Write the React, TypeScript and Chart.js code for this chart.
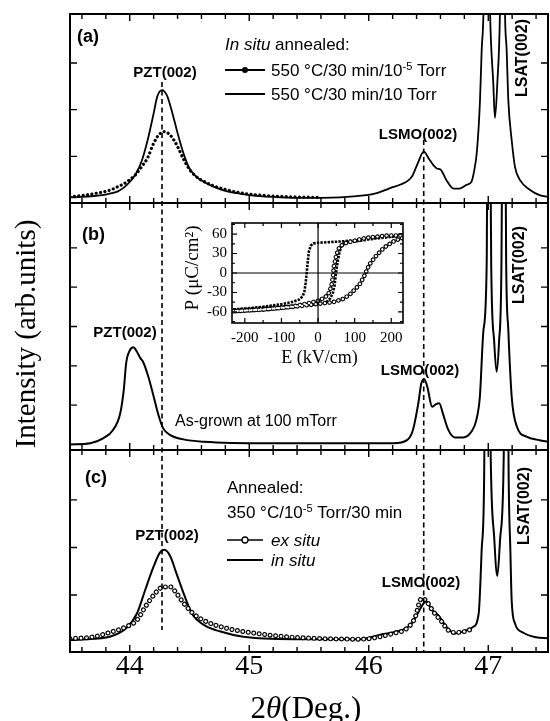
import React, { useEffect, useRef } from "react";
import { Chart, registerables } from "chart.js";
Chart.register(...registerables);

const W = 550;
const H = 721;
const SANS = '"Liberation Sans", Arial, Helvetica, sans-serif';
const SERIF = '"Liberation Serif", "Times New Roman", Times, serif';

// ---------- Panel (a): in situ annealed ----------
const aSolidX = [43.50,43.60,43.70,43.80,43.85,43.90,43.95,44.00,44.05,44.10,44.15,44.20,44.23,44.27,44.31,44.35,44.40,44.45,44.50,44.55,44.60,44.70,44.80,44.90,45.00,45.20,45.40,45.60,45.76,45.98,46.05,46.12,46.20,46.26,46.36,46.41,46.46,46.51,46.57,46.60,46.65,46.71,46.76,46.82,46.86,46.88,46.906,46.931,46.945,46.96,46.985,47.015,47.042,47.056,47.076,47.098,47.12,47.14,47.154,47.168,47.196,47.224,47.266,47.35,47.43,47.50];
const aSolidY = [0.12,0.13,0.15,0.18,0.21,0.25,0.33,0.45,0.62,0.90,1.35,1.92,2.28,2.42,2.31,1.99,1.50,1.06,0.74,0.58,0.48,0.35,0.26,0.21,0.17,0.13,0.11,0.11,0.12,0.17,0.20,0.26,0.34,0.39,0.56,0.85,1.10,0.92,0.74,0.72,0.49,0.31,0.31,0.39,0.46,0.66,1.13,2.20,3.28,4.10,9.0,4.10,2.57,1.82,2.57,4.10,9.0,4.10,3.28,2.20,1.35,0.77,0.49,0.28,0.17,0.13];
const aDotX = [43.50,43.60,43.70,43.80,43.85,43.90,43.95,44.00,44.05,44.10,44.15,44.20,44.25,44.29,44.35,44.40,44.45,44.50,44.55,44.60,44.70,44.80,44.90,45.00,45.20,45.40,45.60];
const aDotY = [0.13,0.16,0.20,0.25,0.29,0.35,0.41,0.50,0.61,0.78,0.97,1.28,1.48,1.53,1.42,1.21,0.94,0.72,0.58,0.49,0.37,0.29,0.23,0.19,0.15,0.13,0.12];

// ---------- Panel (b): as-grown ----------
const bX = [43.50,43.67,43.78,43.86,43.92,43.95,43.97,44.00,44.03,44.06,44.09,44.11,44.155,44.20,44.24,44.28,44.34,44.45,44.62,45.17,45.80,46.206,46.32,46.37,46.415,46.44,46.465,46.49,46.53,46.555,46.59,46.62,46.666,46.72,46.79,46.86,46.90,46.93,46.96,46.987,47.00,47.025,47.05,47.07,47.09,47.11,47.13,47.15,47.168,47.196,47.24,47.32,47.43,47.50];
const bY = [0.00,0.03,0.16,0.37,0.79,1.39,2.07,2.39,2.47,2.36,2.19,2.11,1.73,1.22,0.75,0.41,0.24,0.13,0.07,0.03,0.03,0.03,0.11,0.37,1.05,1.56,1.66,1.47,0.96,1.01,1.05,0.79,0.37,0.18,0.18,0.33,0.62,1.22,2.91,4.61,14,4.5,2.6,1.85,2.6,4.5,14,4.6,2.91,1.22,0.45,0.20,0.11,0.07];

// ---------- Panel (c): 350 C annealed ----------
const cInX = [43.50,43.70,43.83,43.97,44.06,44.13,44.20,44.25,44.29,44.34,44.39,44.45,44.52,44.62,44.76,44.95,45.37,45.93,46.09,46.23,46.35,46.41,46.46,46.48,46.53,46.58,46.65,46.72,46.79,46.87,46.92,46.945,46.965,46.99,47.02,47.05,47.076,47.10,47.13,47.15,47.17,47.185,47.196,47.224,47.29,47.40,47.50];
const cInY = [0.05,0.08,0.12,0.30,0.61,1.11,1.60,1.88,1.95,1.81,1.46,1.04,0.61,0.37,0.23,0.12,0.07,0.07,0.16,0.23,0.37,0.61,0.83,0.86,0.68,0.58,0.33,0.19,0.23,0.32,0.61,1.95,3.35,12,4.0,2.2,1.40,2.2,4.0,12,3.70,1.95,0.89,0.40,0.21,0.11,0.09];
const cExX = [43.50,43.70,43.83,43.97,44.06,44.13,44.18,44.225,44.28,44.34,44.39,44.45,44.53,44.64,44.81,45.09,45.37,45.93,46.205,46.32,46.39,46.43,46.45,46.485,46.54,46.61,46.665,46.72,46.80,46.88];
const cExY = [0.08,0.12,0.21,0.33,0.47,0.75,0.93,1.07,1.17,1.17,1.04,0.83,0.61,0.44,0.30,0.18,0.11,0.07,0.19,0.30,0.54,0.89,0.93,0.86,0.65,0.44,0.26,0.21,0.23,0.30];

// ---------- Inset: P-E hysteresis loops ----------
const filledE = [-232,-150,-100,-50,0,20,32,40,45,48,52,57,63,72,100,150,200,230,180,120,60,0,-13,-20,-25,-28,-31,-34,-37,-42,-52,-70,-100,-150,-200,-232];
const filledP = [-56,-53,-51.5,-50,-48,-46,-40,-32,-20,-5,12,28,40,46,48.5,52.5,55.5,57.5,55,51,48.5,46.5,45.5,42,33,18,0,-16,-28,-36,-41,-44.5,-48,-52,-55,-56];
const openE = [-232,-150,-100,-50,0,40,68,85,95,113,126,140,158,180,207,230,230,185,130,77,59,50,43,41,36,27,5,-30,-70,-150,-232];
const openP = [-59,-56,-54,-51,-47.5,-45,-40,-34,-28.5,-18,-5,13,26,39,49,54,58,57.5,54,46.5,41,28,10,-5,-21,-34,-42,-47,-51.5,-56.5,-59];

// ---------- ticks / reference positions ----------
const xTickLabels = [44, 45, 46, 47];
const aYTicks = [1, 2, 3];
const bYTicks = [1, 2, 3, 4, 5];
const cYTicks = [1, 2, 3];
const insetXTicks = [-200, -100, 0, 100, 200];
const insetYTicks = [-60, -30, 0, 30, 60];
const pztPos = 44.27;
const lsmoPos = 46.46;

const AREA_L = 70;
const AREA_R = 548;
const X_AXIS_H = 40;

type Run = { t: string; f: string; dy?: number };

function drawRuns(ctx: any, runs: Run[], x: number, y: number, align: string = "left") {
  const widths = runs.map((r) => {
    ctx.font = r.f;
    return ctx.measureText(r.t).width;
  });
  const total = widths.reduce((s, w) => s + w, 0);
  let cx = align === "center" ? x - total / 2 : x;
  ctx.textAlign = "left";
  ctx.textBaseline = "alphabetic";
  runs.forEach((r, i) => {
    ctx.font = r.f;
    ctx.fillText(r.t, cx, y + (r.dy || 0));
    cx += widths[i];
  });
}

function rotText(ctx: any, s: string, x: number, y: number, font: string) {
  ctx.save();
  ctx.translate(x, y);
  ctx.rotate(-Math.PI / 2);
  ctx.font = font;
  ctx.textAlign = "center";
  ctx.textBaseline = "alphabetic";
  ctx.fillText(s, 0, 0);
  ctx.restore();
}

function seg(ctx: any, x1: number, y1: number, x2: number, y2: number, w: number) {
  ctx.beginPath();
  ctx.lineWidth = w;
  ctx.moveTo(x1, y1);
  ctx.lineTo(x2, y2);
  ctx.stroke();
}

function pts(xs: number[], ys: number[]) {
  return xs.map((x, i) => ({ x, y: ys[i] }));
}

function xMinor() {
  const out: number[] = [];
  for (let k = 436; k <= 474; k += 2) out.push(k / 10);
  return out;
}

const F17 = `17px ${SANS}`;
const F17I = `italic 17px ${SANS}`;
const F11 = `11px ${SANS}`;
const B15 = `bold 15px ${SANS}`;
const B16 = `bold 16px ${SANS}`;
const B18 = `bold 18px ${SANS}`;

function lineDs(xs: number[], ys: number[], extra: any) {
  return Object.assign(
    {
      data: pts(xs, ys),
      borderColor: "#000",
      borderWidth: 2,
      pointRadius: 0,
      pointHoverRadius: 0,
      tension: 0.3,
      cubicInterpolationMode: "monotone",
      clip: 0,
      fill: false,
    },
    extra
  );
}

function makePanel(canvas: HTMLCanvasElement, spec: any) {
  const decor = {
    id: "panelDecor",
    afterDatasetsDraw(chart: any) {
      const { ctx, chartArea: a } = chart;
      const xs = chart.scales.x;
      const ys = chart.scales.y;
      ctx.save();
      ctx.strokeStyle = "#000";
      ctx.lineWidth = 1.4;
      ctx.beginPath();
      xMinor().forEach((v) => {
        const px = xs.getPixelForValue(v);
        const len = Math.round(v * 10) % 10 === 0 ? 7 : 5;
        ctx.moveTo(px, a.top);
        ctx.lineTo(px, a.top + len);
        ctx.moveTo(px, a.bottom);
        ctx.lineTo(px, a.bottom - len);
      });
      spec.yTicks.forEach((v: number) => {
        const py = ys.getPixelForValue(v);
        ctx.moveTo(a.left, py);
        ctx.lineTo(a.left + 7, py);
        ctx.moveTo(a.right, py);
        ctx.lineTo(a.right - 7, py);
      });
      ctx.stroke();
      ctx.lineWidth = 2;
      ctx.strokeRect(a.left, a.top, a.right - a.left, a.bottom - a.top);
      ctx.fillStyle = "#000";
      spec.draw(ctx, chart);
      ctx.restore();
    },
  };
  return new Chart(canvas, {
    type: "line",
    data: { datasets: spec.datasets },
    options: {
      responsive: false,
      animation: false,
      devicePixelRatio: 1,
      events: [],
      layout: {
        padding: {
          left: AREA_L,
          right: W - AREA_R,
          top: spec.top,
          bottom: H - spec.bottom - (spec.showX ? X_AXIS_H : 0),
        },
      },
      plugins: { legend: { display: false }, tooltip: { enabled: false } },
      scales: {
        x: {
          type: "linear",
          min: 43.5,
          max: 47.5,
          display: spec.showX,
          afterBuildTicks: (s: any) => {
            s.ticks = xMinor().map((v) => ({ value: v }));
          },
          afterFit: (s: any) => {
            s.height = spec.showX ? X_AXIS_H : 0;
          },
          grid: { display: false, drawTicks: false },
          border: { display: false },
          ticks: {
            autoSkip: false,
            maxRotation: 0,
            padding: -2,
            color: "#000",
            font: { family: SERIF, size: 28 },
            callback: (v: any) => {
              const r = Math.round(Number(v) * 10);
              return r % 10 === 0 && xTickLabels.includes(r / 10) ? String(r / 10) : "";
            },
          },
        },
        y: {
          type: "linear",
          min: spec.yMin,
          max: spec.yMax,
          display: false,
        },
      },
    } as any,
    plugins: [decor],
  } as any);
}

function makeInset(canvas: HTMLCanvasElement) {
  const decor = {
    id: "insetDecor",
    afterDatasetsDraw(chart: any) {
      const { ctx, chartArea: a } = chart;
      const xs = chart.scales.x;
      const ys = chart.scales.y;
      ctx.save();
      ctx.strokeStyle = "#000";
      ctx.fillStyle = "#000";
      const x0 = xs.getPixelForValue(0);
      const y0 = ys.getPixelForValue(0);
      seg(ctx, a.left, y0, a.right, y0, 1.2);
      seg(ctx, x0, a.top, x0, a.bottom, 1.2);
      ctx.lineWidth = 1.2;
      ctx.beginPath();
      for (let v = -200; v <= 200; v += 50) {
        const px = xs.getPixelForValue(v);
        const len = insetXTicks.includes(v) ? 5 : 3;
        ctx.moveTo(px, a.top);
        ctx.lineTo(px, a.top + len);
        ctx.moveTo(px, a.bottom);
        ctx.lineTo(px, a.bottom - len);
      }
      for (let v = -75; v <= 75; v += 15) {
        const py = ys.getPixelForValue(v);
        const len = insetYTicks.includes(v) ? 5 : 3;
        ctx.moveTo(a.left, py);
        ctx.lineTo(a.left + len, py);
        ctx.moveTo(a.right, py);
        ctx.lineTo(a.right - len, py);
      }
      ctx.stroke();
      ctx.lineWidth = 1.6;
      ctx.strokeRect(a.left, a.top, a.right - a.left, a.bottom - a.top);
      drawRuns(ctx, [{ t: "E (kV/cm)", f: `18px ${SERIF}` }], (a.left + a.right) / 2 + 2, 363, "center");
      rotText(ctx, "P (\u03BCC/cm\u00B2)", 198, 268, `19px ${SERIF}`);
      ctx.restore();
    },
  };
  const dash = (xs: number[], ys: number[], extra: any) =>
    Object.assign(
      {
        data: pts(xs, ys),
        borderColor: "#000",
        pointRadius: 0,
        pointHoverRadius: 0,
        tension: 0,
        clip: 0,
        fill: false,
      },
      extra
    );
  return new Chart(canvas, {
    type: "line",
    data: {
      datasets: [
        dash(openE, openP, { borderColor: "#fff", borderWidth: 2.4, borderDash: [0.01, 4.6], borderCapStyle: "round", order: 0 }),
        dash(openE, openP, { borderColor: "#000", borderWidth: 4.6, borderDash: [0.01, 4.6], borderCapStyle: "round", order: 1 }),
        dash(filledE, filledP, { borderColor: "#000", borderWidth: 2.6, borderDash: [2.4, 1.2], borderCapStyle: "butt", order: 2 }),
      ],
    },
    options: {
      responsive: false,
      animation: false,
      devicePixelRatio: 1,
      events: [],
      layout: { padding: { left: 198, right: W - 403, top: 223, bottom: H - 323 - 20 } },
      plugins: { legend: { display: false }, tooltip: { enabled: false } },
      scales: {
        x: {
          type: "linear",
          min: -235,
          max: 232,
          afterBuildTicks: (s: any) => {
            s.ticks = insetXTicks.map((v) => ({ value: v }));
          },
          afterFit: (s: any) => {
            s.height = 20;
          },
          grid: { display: false, drawTicks: false },
          border: { display: false },
          ticks: { autoSkip: false, maxRotation: 0, padding: 6, color: "#000", font: { family: SERIF, size: 15 } },
        },
        y: {
          type: "linear",
          min: -77,
          max: 77,
          afterBuildTicks: (s: any) => {
            s.ticks = insetYTicks.map((v) => ({ value: v }));
          },
          afterFit: (s: any) => {
            s.width = 34;
          },
          grid: { display: false, drawTicks: false },
          border: { display: false },
          ticks: { autoSkip: false, padding: 5, color: "#000", font: { family: SERIF, size: 15 } },
        },
      },
    } as any,
    plugins: [decor],
  } as any);
}

const specA = {
  top: 14,
  bottom: 203,
  yMin: 0,
  yMax: 4.05,
  yTicks: aYTicks,
  showX: false,
  datasets: [
    lineDs(aDotX, aDotY, { borderWidth: 3.2, borderDash: [0.01, 4.4], borderCapStyle: "round", order: 0 }),
    lineDs(aSolidX, aSolidY, { borderWidth: 1.8, order: 1 }),
  ],
  draw: (ctx: any) => {
    drawRuns(ctx, [{ t: "(a)", f: B18 }], 77, 42);
    drawRuns(ctx, [{ t: "In situ", f: F17I }, { t: " annealed:", f: F17 }], 225, 50);
    seg(ctx, 225, 70, 265, 70, 1.8);
    ctx.beginPath();
    ctx.arc(245, 70, 3, 0, Math.PI * 2);
    ctx.fill();
    drawRuns(ctx, [{ t: "550 \u00B0C/30 min/10", f: F17 }, { t: "-5", f: F11, dy: -6 }, { t: " Torr", f: F17 }], 271, 76);
    seg(ctx, 225, 94, 265, 94, 2);
    drawRuns(ctx, [{ t: "550 \u00B0C/30 min/10 Torr", f: F17 }], 271, 100);
    drawRuns(ctx, [{ t: "PZT(002)", f: B15 }], 165, 77, "center");
    drawRuns(ctx, [{ t: "LSMO(002)", f: B15 }], 418, 139, "center");
    rotText(ctx, "LSAT(002)", 527, 58, B16);
  },
};

const specB = {
  top: 203,
  bottom: 450,
  yMin: -0.14,
  yMax: 6.14,
  yTicks: bYTicks,
  showX: false,
  datasets: [lineDs(bX, bY, { borderWidth: 2 })],
  draw: (ctx: any) => {
    drawRuns(ctx, [{ t: "(b)", f: B18 }], 82, 240);
    drawRuns(ctx, [{ t: "PZT(002)", f: B15 }], 125, 337, "center");
    drawRuns(ctx, [{ t: "LSMO(002)", f: B15 }], 420, 375, "center");
    rotText(ctx, "LSAT(002)", 524, 265, B16);
    drawRuns(ctx, [{ t: "As-grown at 100 mTorr", f: `16px ${SANS}` }], 175, 426);
  },
};

const specC = {
  top: 450,
  bottom: 652,
  yMin: -0.2,
  yMax: 4.05,
  yTicks: cYTicks,
  showX: true,
  datasets: [
    lineDs(cExX, cExY, { borderColor: "#fff", borderWidth: 2.6, borderDash: [0.01, 5.5], borderCapStyle: "round", order: 0 }),
    lineDs(cExX, cExY, { borderColor: "#000", borderWidth: 5, borderDash: [0.01, 5.5], borderCapStyle: "round", order: 1 }),
    lineDs(cInX, cInY, { borderWidth: 2, order: 2 }),
  ],
  draw: (ctx: any, chart: any) => {
    const xs = chart.scales.x;
    ctx.save();
    ctx.setLineDash([5, 3.5]);
    seg(ctx, xs.getPixelForValue(pztPos), 82, xs.getPixelForValue(pztPos), 630, 1.6);
    seg(ctx, xs.getPixelForValue(lsmoPos), 140, xs.getPixelForValue(lsmoPos), 652, 1.6);
    ctx.restore();
    drawRuns(ctx, [{ t: "(c)", f: B18 }], 85, 483);
    drawRuns(ctx, [{ t: "Annealed:", f: F17 }], 227, 493);
    drawRuns(ctx, [{ t: "350 \u00B0C/10", f: F17 }, { t: "-5", f: F11, dy: -6 }, { t: " Torr/30 min", f: F17 }], 227, 518);
    seg(ctx, 227, 540, 263, 540, 1.6);
    ctx.beginPath();
    ctx.arc(245, 540, 3, 0, Math.PI * 2);
    ctx.fillStyle = "#fff";
    ctx.fill();
    ctx.lineWidth = 1.3;
    ctx.stroke();
    ctx.fillStyle = "#000";
    drawRuns(ctx, [{ t: "ex situ", f: F17I }], 271, 546);
    seg(ctx, 227, 560, 263, 560, 2);
    drawRuns(ctx, [{ t: "in situ", f: F17I }], 271, 566);
    drawRuns(ctx, [{ t: "PZT(002)", f: B15 }], 167, 540, "center");
    drawRuns(ctx, [{ t: "LSMO(002)", f: B15 }], 421, 587, "center");
    rotText(ctx, "LSAT(002)", 529, 506, B16);
    rotText(ctx, "Intensity (arb.units)", 35, 334, `29px ${SERIF}`);
    drawRuns(
      ctx,
      [
        { t: "2", f: `31px ${SERIF}` },
        { t: "\u03B8", f: `italic 31px ${SERIF}` },
        { t: "(Deg.)", f: `31px ${SERIF}` },
      ],
      306,
      718,
      "center"
    );
  },
};

export default function App() {
  const refA = useRef<HTMLCanvasElement>(null);
  const refB = useRef<HTMLCanvasElement>(null);
  const refC = useRef<HTMLCanvasElement>(null);
  const refI = useRef<HTMLCanvasElement>(null);

  useEffect(() => {
    const charts = [
      makePanel(refA.current as HTMLCanvasElement, specA),
      makePanel(refB.current as HTMLCanvasElement, specB),
      makePanel(refC.current as HTMLCanvasElement, specC),
      makeInset(refI.current as HTMLCanvasElement),
    ];
    return () => charts.forEach((c) => c.destroy());
  }, []);

  const cstyle: any = { position: "absolute", left: 0, top: 0, width: W, height: H };
  return (
    <div style={{ position: "absolute", left: 0, top: 0, width: W, height: H, background: "#fff", overflow: "hidden" }}>
      <canvas ref={refA} width={W} height={H} style={cstyle} />
      <canvas ref={refB} width={W} height={H} style={cstyle} />
      <canvas ref={refC} width={W} height={H} style={cstyle} />
      <canvas ref={refI} width={W} height={H} style={cstyle} />
    </div>
  );
}
